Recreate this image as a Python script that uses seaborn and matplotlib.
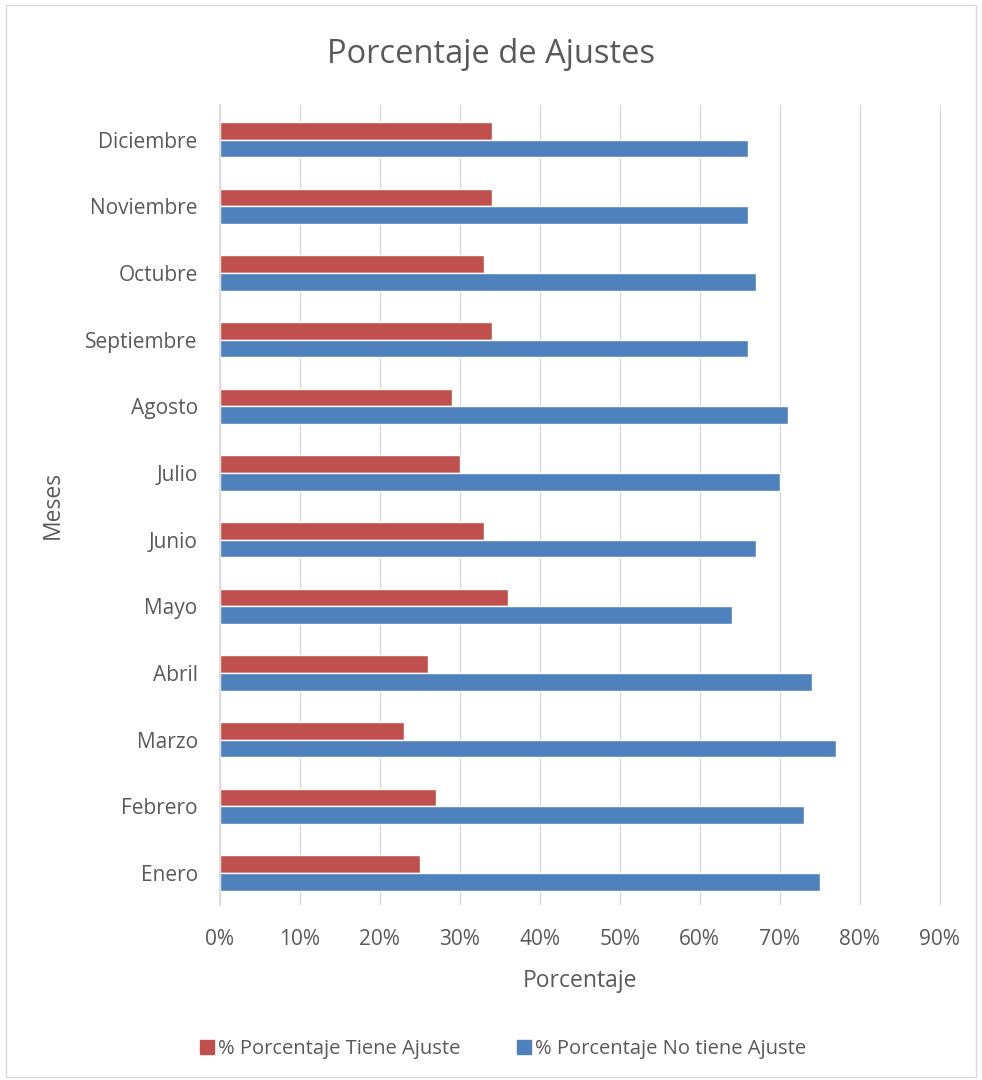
import matplotlib
matplotlib.use("Agg")
import matplotlib.pyplot as plt
import seaborn as sns
import pandas as pd
from matplotlib.patches import Rectangle
from matplotlib.ticker import FuncFormatter

months = ["Enero", "Febrero", "Marzo", "Abril", "Mayo", "Junio", "Julio",
          "Agosto", "Septiembre", "Octubre", "Noviembre", "Diciembre"]
tiene_ajuste = [25, 27, 23, 26, 36, 33, 30, 29, 34, 33, 34, 34]
no_tiene_ajuste = [75, 73, 77, 74, 64, 67, 70, 71, 66, 67, 66, 66]
series_names = ["% Porcentaje Tiene Ajuste", "% Porcentaje No tiene Ajuste"]
colors = ["#C0504D", "#4F81BD"]

rows = []
for m, a, b in zip(months, tiene_ajuste, no_tiene_ajuste):
    rows.append({"Mes": m, "Serie": series_names[0], "Valor": a / 100})
    rows.append({"Mes": m, "Serie": series_names[1], "Valor": b / 100})
df = pd.DataFrame(rows)

sns.set_theme(style="white")
plt.rcParams["font.family"] = ["Open Sans", "DejaVu Sans"]
text_color = "#595959"

fig = plt.figure(figsize=(9.82, 10.8), dpi=100)
ax = fig.add_axes([0.224, 0.162, 0.734, 0.741])

sns.barplot(data=df, y="Mes", x="Valor", hue="Serie", order=months[::-1],
            hue_order=series_names, palette=colors, orient="h", width=0.53,
            ax=ax, legend=False, saturation=1)

ax.set_xlim(0, 0.9015)
ax.set_ylim(11.48, -0.525)
ax.set_xticks([i / 10 for i in range(10)])
ax.xaxis.set_major_formatter(FuncFormatter(lambda v, p: f"{v*100:.0f}%"))
ax.grid(axis="x", color="#D9D9D9", linewidth=1)
ax.set_axisbelow(True)
for s in ["top", "right", "bottom"]:
    ax.spines[s].set_visible(False)
ax.spines["left"].set_color("#D9D9D9")
ax.tick_params(axis="both", length=0, labelsize=15, colors=text_color)
ax.tick_params(axis="x", pad=17)
ax.tick_params(axis="y", pad=16)
ax.set_xlabel("Porcentaje", fontsize=16.5, color=text_color, labelpad=14)
ax.set_ylabel("Meses", fontsize=16.5, color=text_color)
ax.yaxis.set_label_coords(-0.215, 0.5)

fig.suptitle("Porcentaje de Ajustes", fontsize=23.5, color=text_color, y=0.965)

handles = [Rectangle((0, 0), 1, 1, color=c) for c in colors]
fig.legend(handles, series_names, loc="center", bbox_to_anchor=(0.512, 0.029),
           ncol=2, frameon=False, fontsize=14.5, labelcolor=text_color,
           handlelength=0.7, handleheight=0.7, handletextpad=0.2,
           columnspacing=2.8)

fig.patches.append(Rectangle((0.006, 0.003), 0.988, 0.992, transform=fig.transFigure,
                             fill=False, edgecolor="#D9D9D9", linewidth=1))

fig.savefig("out.png", dpi=100)
